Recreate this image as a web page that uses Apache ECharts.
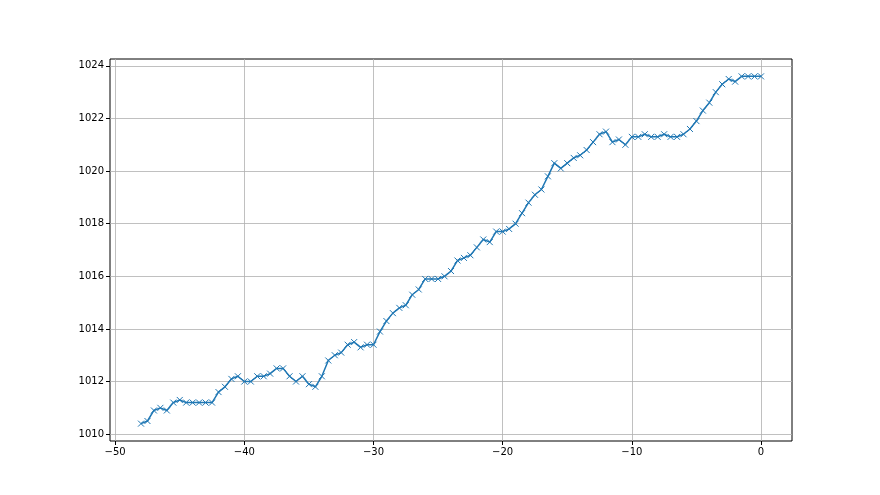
<!DOCTYPE html>
<html>
<head>
<meta charset="utf-8">
<script src="https://cdn.jsdelivr.net/npm/echarts@6/dist/echarts.min.js"></script>
<style>html,body{margin:0;padding:0;background:#fff}#c{width:880px;height:495px}</style>
</head>
<body>
<div id="c"></div>
<script>
const xValues = [-48,-47.5,-47,-46.5,-46,-45.5,-45,-44.5,-44,-43.5,-43,-42.5,-42,-41.5,-41,-40.5,-40,-39.5,-39,-38.5,-38,-37.5,-37,-36.5,-36,-35.5,-35,-34.5,-34,-33.5,-33,-32.5,-32,-31.5,-31,-30.5,-30,-29.5,-29,-28.5,-28,-27.5,-27,-26.5,-26,-25.5,-25,-24.5,-24,-23.5,-23,-22.5,-22,-21.5,-21,-20.5,-20,-19.5,-19,-18.5,-18,-17.5,-17,-16.5,-16,-15.5,-15,-14.5,-14,-13.5,-13,-12.5,-12,-11.5,-11,-10.5,-10,-9.5,-9,-8.5,-8,-7.5,-7,-6.5,-6,-5.5,-5,-4.5,-4,-3.5,-3,-2.5,-2,-1.5,-1,-0.5,0];
const pressure = [1010.4,1010.5,1010.9,1011.0,1010.9,1011.2,1011.3,1011.2,1011.2,1011.2,1011.2,1011.2,1011.6,1011.8,1012.1,1012.2,1012.0,1012.0,1012.2,1012.2,1012.3,1012.5,1012.5,1012.2,1012.0,1012.2,1011.9,1011.8,1012.2,1012.8,1013.0,1013.1,1013.4,1013.5,1013.3,1013.4,1013.4,1013.9,1014.3,1014.6,1014.8,1014.9,1015.3,1015.5,1015.9,1015.9,1015.9,1016.0,1016.2,1016.6,1016.7,1016.8,1017.1,1017.4,1017.3,1017.7,1017.7,1017.8,1018.0,1018.4,1018.8,1019.1,1019.3,1019.8,1020.3,1020.1,1020.3,1020.5,1020.6,1020.8,1021.1,1021.4,1021.5,1021.1,1021.2,1021.0,1021.3,1021.3,1021.4,1021.3,1021.3,1021.4,1021.3,1021.3,1021.4,1021.6,1021.9,1022.3,1022.6,1023.0,1023.3,1023.5,1023.4,1023.6,1023.6,1023.6,1023.6];
const xTicks = [-50,-40,-30,-20,-10,0];
const yTicks = [1010,1012,1014,1016,1018,1020,1022,1024];

const fmt = v => (v < 0 ? '\u2212' + Math.abs(v) : String(v));
const data = xValues.map((x, i) => [x, pressure[i]]);
const xMin = -48, xMax = 0, yMin = Math.min(...pressure), yMax = Math.max(...pressure);
const xm = (xMax - xMin) * 0.05, ym = (yMax - yMin) * 0.05;

const axisCommon = {
  axisLine: {show: false, onZero: false},
  axisTick: {show: true, inside: false, length: 4, lineStyle: {color: '#000', width: 1}},
  axisLabel: {color: '#000', fontFamily: 'DejaVu Sans', fontSize: 10, margin: 6},
  splitLine: {show: true, lineStyle: {color: '#b0b0b0', width: 0.8}}
};

const chart = echarts.init(document.getElementById('c'), null, {renderer: 'canvas'});
chart.setOption({
  animation: false,
  backgroundColor: '#fff',
  grid: {left: 110, right: 88, top: 59, bottom: 54, show: true, borderColor: '#000', borderWidth: 1, backgroundColor: 'transparent'},
  xAxis: Object.assign({}, axisCommon, {
    type: 'value', position: 'bottom', min: xMin - xm, max: xMax + xm,
    axisTick: Object.assign({}, axisCommon.axisTick, {customValues: xTicks}),
    axisLabel: Object.assign({}, axisCommon.axisLabel, {customValues: xTicks, formatter: fmt})
  }),
  yAxis: Object.assign({}, axisCommon, {
    type: 'value', position: 'left', min: yMin - ym, max: yMax + ym,
    axisTick: Object.assign({}, axisCommon.axisTick, {customValues: yTicks}),
    axisLabel: Object.assign({}, axisCommon.axisLabel, {customValues: yTicks, formatter: v => String(v)})
  }),
  series: [{
    type: 'line',
    data: data,
    lineStyle: {color: '#1f77b4', width: 1.5},
    symbol: 'path://M0,0L10,10M10,0L0,10',
    symbolSize: 6,
    showAllSymbol: true,
    itemStyle: {color: 'rgba(0,0,0,0)', borderColor: '#1f77b4', borderWidth: 1},
    z: 3
  }]
});
</script>
</body>
</html>
